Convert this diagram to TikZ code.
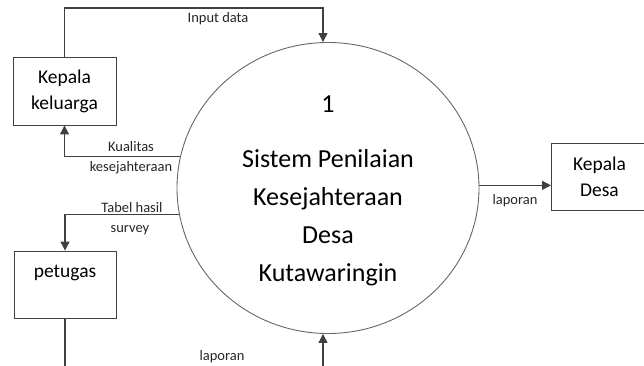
\documentclass[tikz,border=0pt]{standalone}
\usepackage{fontspec}
\setmainfont{Carlito}
\usetikzlibrary{shapes.geometric,arrows.meta}
\tikzset{
  entity/.style={draw=black!75,line width=0.9pt,fill=white,align=center,font=\fontsize{19.5}{26}\selectfont,inner sep=0pt},
  proc/.style={draw=black!60,line width=0.9pt,ellipse,minimum width=302pt,minimum height=291pt,inner sep=0pt},
  flow/.style={draw=black!75,line width=1.1pt,-{Triangle[length=9pt,width=9pt]}},
  lbl/.style={font=\fontsize{14.5}{16}\selectfont,inner sep=0pt,text=black!85},
  ptxt/.style={font=\fontsize{26}{38}\selectfont,align=center,inner sep=0pt}
}
\begin{document}
\begin{tikzpicture}[x=1pt,y=-1pt]
\useasboundingbox (0,0) rectangle (644,366);
\clip (0,0) rectangle (644,366);
\node[proc] (proc) at (328,188) {};
\begin{scope}
\clip (180,60) rectangle (480,286);
\node[ptxt] (ptitle) at (328,191) {1\\[17pt]Sistem Penilaian\\Kesejahteraan\\Desa\\Kutawaringin};
\end{scope}
\node[entity,minimum width=103pt,minimum height=68pt] (kk) at (64.5,91) {Kepala\\keluarga};
\node[entity,minimum width=102pt,minimum height=67pt] (pet) at (65,284.5) {petugas\\\mbox{}};
\node[entity,minimum width=110pt,minimum height=67pt,anchor=west] (kd) at (551,176.5) {\hspace*{-14pt}Kepala\\\hspace*{-14pt}Desa};
\coordinate (top) at (323,8);
\coordinate (bot) at (323,390);
\draw[flow] (kk.north) |- (top) -- (top |- proc.north);
\draw[flow] (proc.168.5) -| (kk.south);
\draw[flow] (proc.190.7) -| (pet.north);
\draw[flow] (proc.1.9) -- (kd.west |- proc.1.9);
\draw[flow] (pet.south) |- (bot) -- (bot |- proc.south);
\node[lbl] (l1) at (218,19) {Input data};
\node[lbl] (l2) at (131,147) {Kualitas};
\node[lbl] (l3) at (131,168) {kesejahteraan};
\node[lbl] (l4) at (132,208) {Tabel hasil};
\node[lbl] (l5) at (130,230) {survey};
\node[lbl] (l6) at (515,201) {laporan};
\node[lbl] (l7) at (222,357) {laporan};
\end{tikzpicture}
\end{document}
